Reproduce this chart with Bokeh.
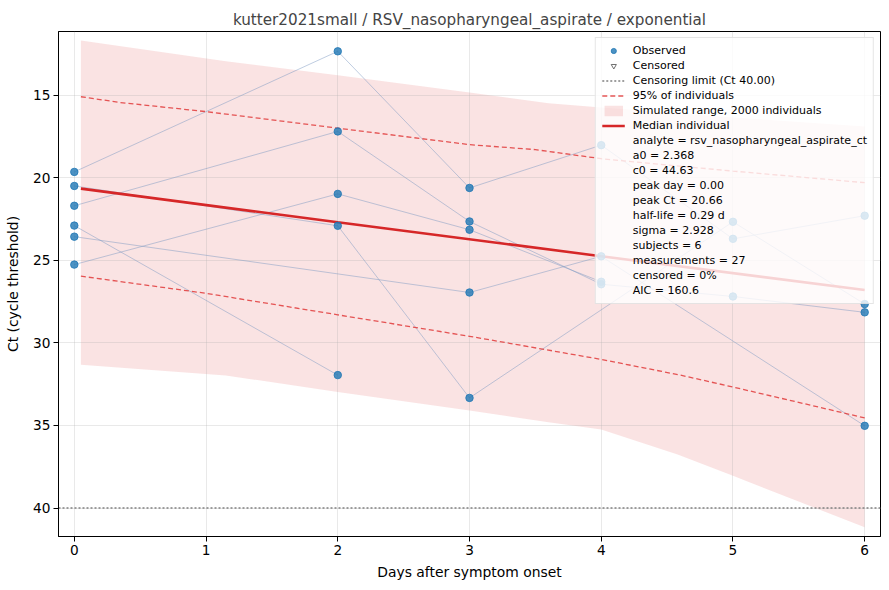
import numpy as np
from bokeh.plotting import figure
from bokeh.models import Range1d, FixedTicker, Legend, LegendItem
from bokeh.embed import file_html
from bokeh.resources import INLINE

TITLE = "kutter2021small / RSV_nasopharyngeal_aspirate / exponential"
X_LABEL = "Days after symptom onset"
Y_LABEL = "Ct (cycle threshold)"
X_TICKS = [0, 1, 2, 3, 4, 5, 6]
Y_TICKS = [15, 20, 25, 30, 35, 40]
X_MIN, X_MAX = -0.12, 6.12
Y_MIN, Y_MAX = 11.15, 41.72
CENSOR_LIMIT = 40.0

# subject trajectories (day, Ct)
subj_days = [
    [0, 2, 3, 4, 5, 6],
    [0, 2, 3, 5, 6],
    [0, 2, 3, 4, 5, 6],
    [0, 2],
    [0, 3, 4, 6],
    [0, 2, 3, 4],
]
subj_ct = [
    [19.65, 12.35, 20.62, 18.03, 23.70, 22.30],
    [20.50, 22.91, 33.33, 22.67, 27.65],
    [21.70, 17.20, 22.65, 26.45, 27.19, 28.15],
    [22.90, 31.95],
    [23.57, 26.95, 24.76, 35.02],
    [25.26, 20.98, 23.15, 26.30],
]

# censored observations (none)
cens_days = [np.nan]
cens_ct = [np.nan]

# simulated envelope (2000 individuals)
env_days = [0.05, 1.15, 2.0, 3.0, 3.6, 4.0, 4.58, 5.0, 6.0]
env_upper = [11.69, 12.95, 13.80, 14.84, 15.50, 15.75, 16.10, 16.35, 16.90]
env_lower = [31.33, 31.97, 32.97, 34.10, 34.80, 35.24, 36.75, 38.05, 41.16]

# 95% of individuals
q_hi_days = [0.05, 0.35, 1.0, 2.0, 3.0, 3.5, 4.0, 5.0, 6.0]
q_hi_ct = [15.10, 15.45, 16.00, 17.00, 18.00, 18.30, 18.85, 19.60, 20.30]
q_lo_days = [0.05, 1.0, 2.0, 3.0, 4.0, 4.6, 5.0, 6.0]
q_lo_ct = [25.96, 27.00, 28.30, 29.60, 31.00, 31.95, 32.67, 34.54]

# median individual
med_days = [0.05, 2.0, 4.0, 6.0]
med_ct = [20.66, 22.70, 24.75, 26.80]

stats_lines = [
    "analyte = rsv_nasopharyngeal_aspirate_ct",
    "a0 = 2.368",
    "c0 = 44.63",
    "peak day = 0.00",
    "peak Ct = 20.66",
    "half-life = 0.29 d",
    "sigma = 2.928",
    "subjects = 6",
    "measurements = 27",
    "censored = 0%",
    "AIC = 160.6",
]

FONT = "DejaVu Sans"

p = figure(width=881, height=582,
           x_range=Range1d(X_MIN, X_MAX), y_range=Range1d(Y_MAX, Y_MIN),
           output_backend="svg", toolbar_location=None,
           min_border_left=58, min_border_right=1,
           min_border_top=31, min_border_bottom=44)

p.title.text = TITLE
p.title.align = "center"
p.title.text_font = FONT
p.title.text_font_size = "15.2px"
p.title.text_font_style = "normal"
p.title.standoff = 6

p.outline_line_color = "black"
p.outline_line_alpha = 1.0
p.outline_line_width = 1

p.xaxis.ticker = FixedTicker(ticks=X_TICKS)
p.yaxis.ticker = FixedTicker(ticks=Y_TICKS)
p.xgrid.ticker = FixedTicker(ticks=X_TICKS)
p.ygrid.ticker = FixedTicker(ticks=Y_TICKS)
p.xaxis.axis_label = X_LABEL
p.yaxis.axis_label = Y_LABEL
for ax in (p.xaxis, p.yaxis):
    ax.axis_label_text_font = FONT
    ax.axis_label_text_font_size = "13.9px"
    ax.axis_label_text_font_style = "normal"
    ax.axis_label_text_color = "black"
    ax.major_label_text_font = FONT
    ax.major_label_text_font_size = "13.7px"
    ax.major_label_text_color = "black"
    ax.major_tick_out = 5
    ax.major_tick_in = 0
    ax.minor_tick_out = 0
    ax.minor_tick_in = 0
    ax.axis_line_color = "black"
    ax.major_tick_line_color = "black"
    ax.major_label_standoff = 3
p.xaxis.axis_label_standoff = 6
p.yaxis.axis_label_standoff = 9

for g in (p.xgrid, p.ygrid):
    g.grid_line_color = "#b0b0b0"
    g.grid_line_alpha = 0.35
    g.grid_line_width = 0.8

RED = "#d62728"

r_env = p.varea(x=env_days, y1=env_lower, y2=env_upper,
                fill_color=RED, fill_alpha=0.13, level="image")

r_sub = p.multi_line(xs=subj_days, ys=subj_ct, line_color="#7f9cc4",
                     line_alpha=0.5, line_width=1)

r_qhi = p.line(q_hi_days, q_hi_ct, line_color="#e03a3a", line_alpha=0.85,
               line_width=1.3, line_dash="5 3")
r_qlo = p.line(q_lo_days, q_lo_ct, line_color="#e03a3a", line_alpha=0.85,
               line_width=1.3, line_dash="5 3")

r_med = p.line(med_days, med_ct, line_color=RED, line_width=2.6)

all_x = [d for ds in subj_days for d in ds]
all_y = [c for cs in subj_ct for c in cs]
r_obs = p.scatter(all_x, all_y, size=7.5, marker="circle",
                  fill_color="#1f77b4", fill_alpha=0.8,
                  line_color="#1f77b4", line_alpha=0.8)

r_lim = p.line(x=[X_MIN, X_MAX], y=[CENSOR_LIMIT, CENSOR_LIMIT],
               line_color="#808080", line_dash="2 2", line_width=1.5)

r_cens = p.scatter(x=cens_days, y=cens_ct, marker="inverted_triangle", size=10,
                   fill_alpha=0, line_color="#707070", line_width=1)

items = [
    LegendItem(label="Observed", renderers=[r_obs]),
    LegendItem(label="Censored", renderers=[r_cens]),
    LegendItem(label="Censoring limit (Ct %.2f)" % CENSOR_LIMIT, renderers=[r_lim]),
    LegendItem(label="95% of individuals", renderers=[r_qhi]),
    LegendItem(label="Simulated range, 2000 individuals", renderers=[r_env]),
    LegendItem(label="Median individual", renderers=[r_med]),
]
for s in stats_lines:
    r = p.line(x=[np.nan], y=[np.nan], line_alpha=0)
    items.append(LegendItem(label=s, renderers=[r]))

legend = Legend(items=items, location="top_right")
legend.margin = 6
legend.padding = 6
legend.spacing = 2
legend.label_height = 13
legend.glyph_height = 13
legend.glyph_width = 23
legend.label_standoff = 8
legend.label_text_font = FONT
legend.label_text_font_size = "11px"
legend.label_text_color = "black"
legend.border_line_color = "#cccccc"
legend.border_line_width = 1
legend.background_fill_color = "white"
legend.background_fill_alpha = 0.8
p.add_layout(legend)

open("out.html", "w").write(file_html(p, INLINE))
